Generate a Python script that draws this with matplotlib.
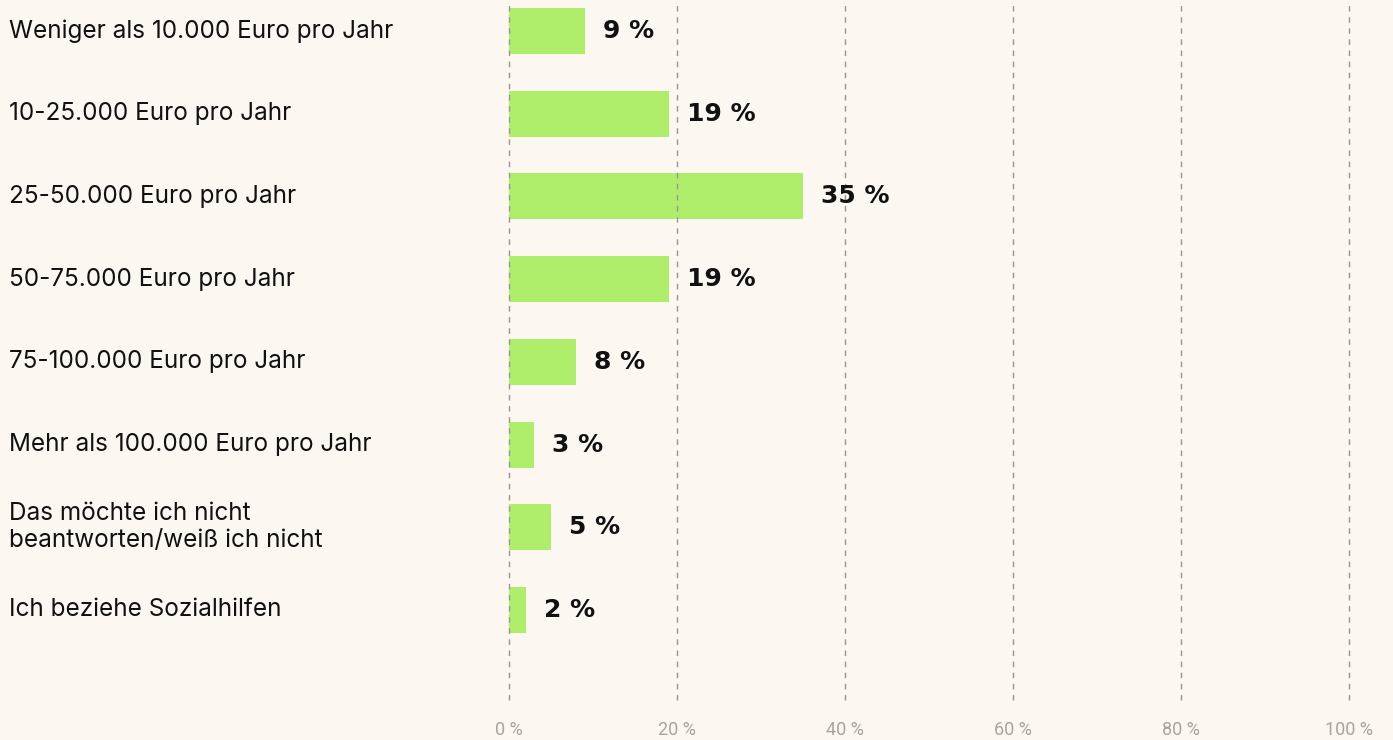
import matplotlib.pyplot as plt
import matplotlib.transforms as mtransforms

categories = [
    "Weniger als 10.000 Euro pro Jahr",
    "10-25.000 Euro pro Jahr",
    "25-50.000 Euro pro Jahr",
    "50-75.000 Euro pro Jahr",
    "75-100.000 Euro pro Jahr",
    "Mehr als 100.000 Euro pro Jahr",
    "Das möchte ich nicht\nbeantworten/weiß ich nicht",
    "Ich beziehe Sozialhilfen",
]
values = [9, 19, 35, 19, 8, 3, 5, 2]
xticks = [0, 20, 40, 60, 80, 100]
xtick_labels = ["0 %", "20 %", "40 %", "60 %", "80 %", "100 %"]

bg = "#fcf7f1"
bar_color = "#aeee6a"

W, H = 1393, 740
fig = plt.figure(figsize=(W / 100, H / 100), dpi=100, facecolor=bg)
# axes spans x 509..1349 px, y 0..700 px
ax = fig.add_axes([509 / W, 40 / H, 840 / W, 700 / H], facecolor=bg)

step = 82.7
ypos = list(range(len(values)))
ax.barh(ypos, values, height=46 / step, color=bar_color, zorder=1)
ax.set_xlim(0, 100)
ax.set_ylim((700 - 31) / step, -31 / step)

for x in xticks:
    ax.axvline(x, color="#9a9590", lw=1, ls=(0, (4, 4)), zorder=2, clip_on=False)

ax.set_xticks(xticks)
ax.set_xticklabels(xtick_labels, fontsize=13, color="#a8a4a0", family="Roboto")
ax.tick_params(axis="x", length=0, pad=15)
ax.set_yticks([])
for s in ax.spines.values():
    s.set_visible(False)

for y, v in zip(ypos, values):
    ax.annotate(f"{v} %", (v, y), xytext=(13, 0), textcoords="offset points",
                ha="left", va="center", fontsize=18, fontweight="bold",
                color="#111111", family="DejaVu Sans", zorder=3)

trans = mtransforms.blended_transform_factory(fig.transFigure, ax.transData)
for y, c in zip(ypos, categories):
    ax.text(9 / W, y, c, transform=trans, ha="left", va="center",
            fontsize=17.5, color="#111111", family="Inter", linespacing=1.2,
            clip_on=False)

fig.savefig("out.png", dpi=100, facecolor=bg)
